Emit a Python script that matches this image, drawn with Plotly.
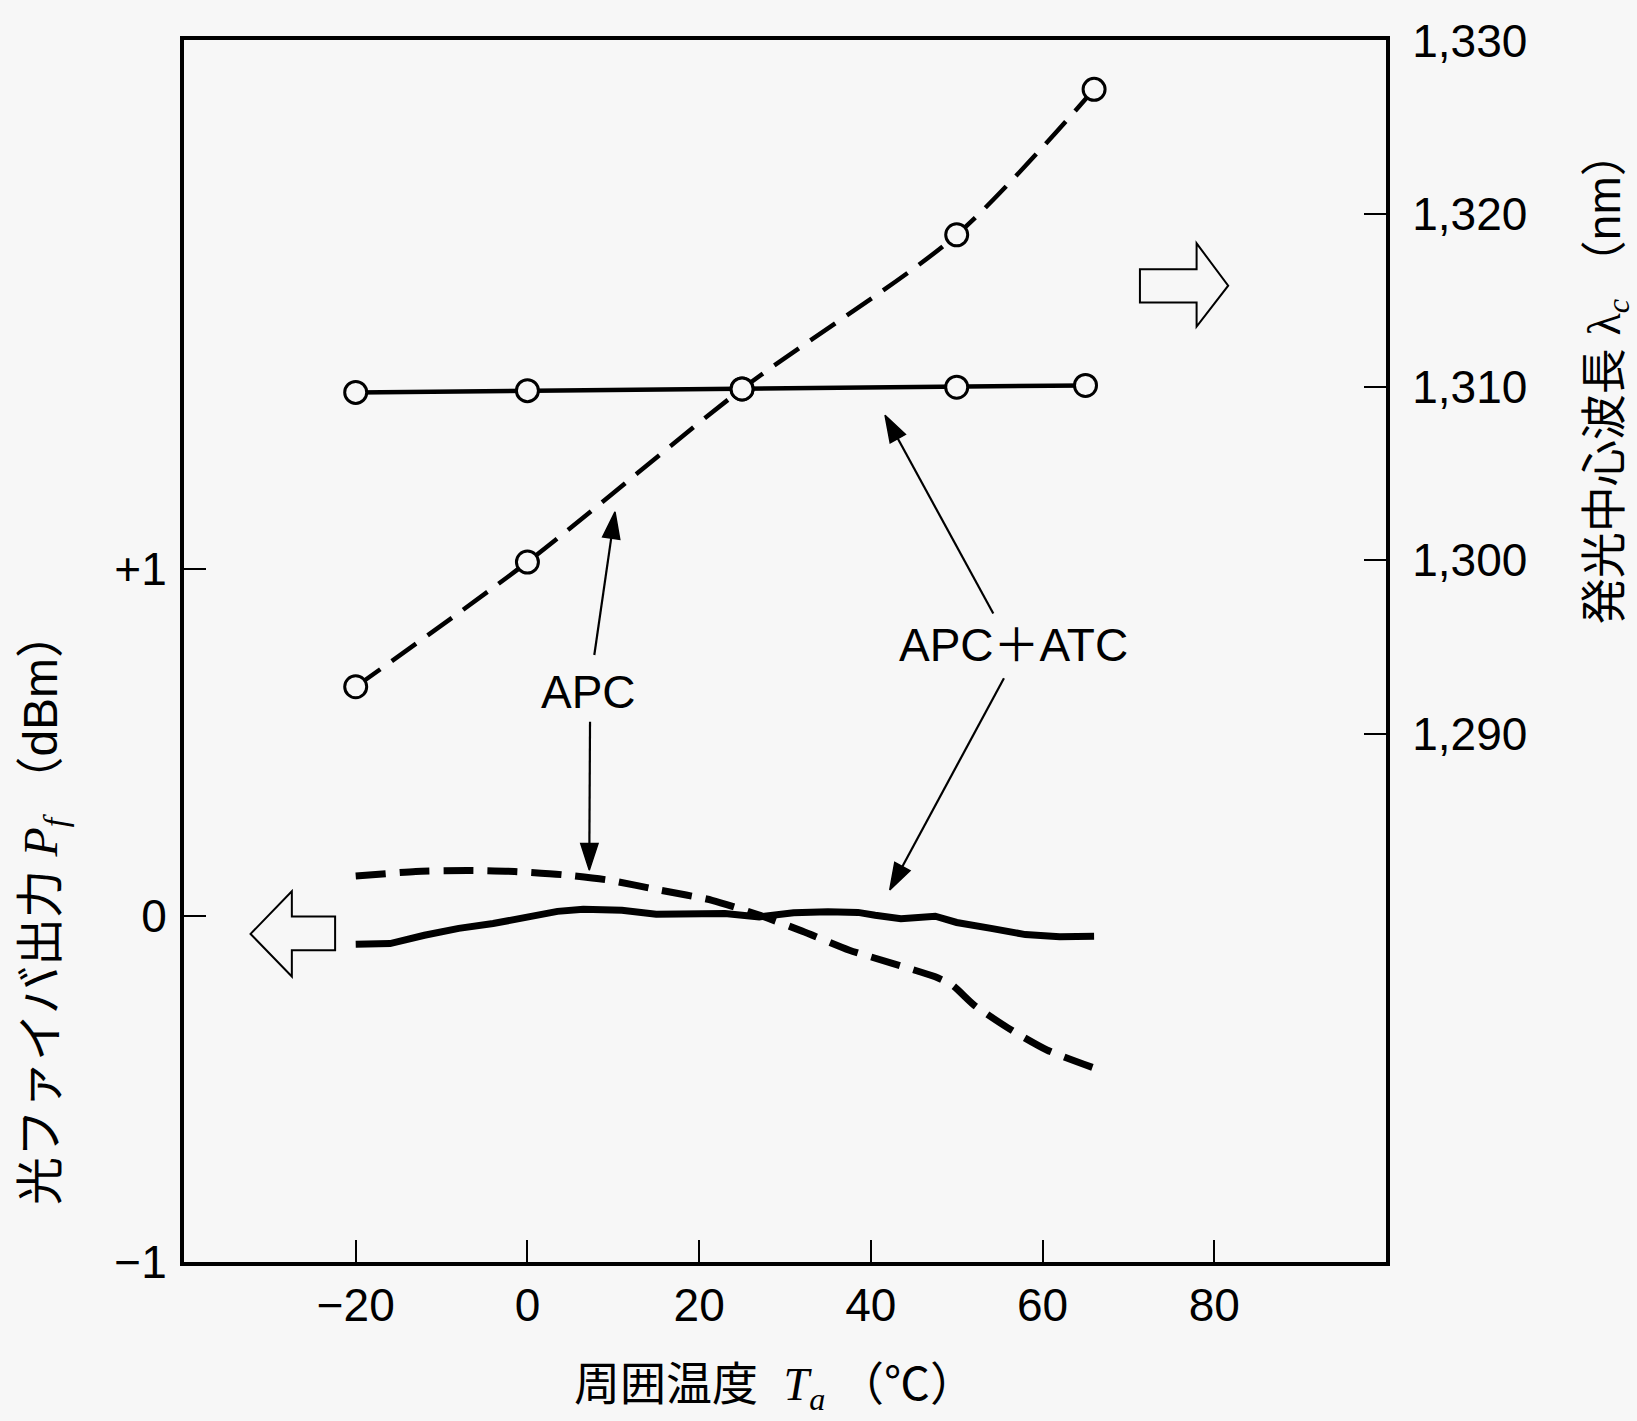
import plotly.graph_objects as go

# ---- data ----
# wavelength (right axis, nm), open-circle measurement points
temp_wl_apc = [-20, 0, 25, 50, 66]
wl_apc = [1292.7, 1299.9, 1309.9, 1318.8, 1327.2]
temp_wl_atc = [-20, 0, 25, 50, 65]
wl_atc = [1309.7, 1309.8, 1309.9, 1310.0, 1310.1]

# fibre output power (left axis, dBm)
temp_pf_apc = [-20, -13, -7, -1.5, 4, 9.5, 15.5, 21.5, 27, 32, 37.5, 42.5, 47.5, 49.5, 52, 56, 60.5, 67]
pf_apc = [0.114, 0.127, 0.130, 0.127, 0.118, 0.102, 0.073, 0.044, 0.001, -0.045, -0.100, -0.138,
          -0.177, -0.201, -0.258, -0.325, -0.388, -0.449]
temp_pf_atc = [-20, -16, -12, -8, -4, 0, 3.5, 6.5, 11, 15, 19, 23, 27, 31, 35, 38.5, 40.5, 43.5,
               47.5, 50, 54, 58, 62, 66]
pf_atc = [-0.083, -0.081, -0.057, -0.037, -0.023, -0.004, 0.012, 0.018, 0.015, 0.004, 0.004, 0.006,
          -0.004, 0.008, 0.011, 0.009, 0.001, -0.009, -0.002, -0.020, -0.037, -0.055, -0.061, -0.060]

x_ticks = [-20, 0, 20, 40, 60, 80]
x_ticktext = ["\u221220", "0", "20", "40", "60", "80"]
y_ticks = [-1, 0, 1]
y_ticktext = ["\u22121", "0", "+1"]
y2_ticks = [1290, 1300, 1310, 1320, 1330]
y2_ticktext = ["1,290", "1,300", "1,310", "1,320", "1,330"]

bg = "#f7f7f7"
sans = "Liberation Sans, Noto Sans CJK JP, sans-serif"
serif = "Liberation Serif, DejaVu Serif, serif"
dash = "30px,14px"

fig = go.Figure()

circle_marker = dict(symbol="circle", size=22, color=bg, line=dict(color="black", width=3))

fig.add_trace(go.Scatter(x=temp_wl_apc, y=wl_apc, yaxis="y2", mode="lines+markers",
                         line=dict(color="black", width=4.5, dash=dash, shape="spline", smoothing=0.8),
                         marker=circle_marker))
fig.add_trace(go.Scatter(x=temp_wl_atc, y=wl_atc, yaxis="y2", mode="lines+markers",
                         line=dict(color="black", width=4.5),
                         marker=circle_marker))
fig.add_trace(go.Scatter(x=temp_pf_apc, y=pf_apc, mode="lines",
                         line=dict(color="black", width=7, dash=dash, shape="spline", smoothing=0.6)))
fig.add_trace(go.Scatter(x=temp_pf_atc, y=pf_atc, mode="lines",
                         line=dict(color="black", width=7)))

# annotation arrows (tail -> tip) in left-axis coordinates
arrows = [
    ((7.79, 0.752), (10.2, 1.165)),
    ((7.29, 0.559), (7.2, 0.131)),
    ((54.26, 0.872), (41.65, 1.444)),
    ((55.5, 0.685), (42.2, 0.074)),
]
for (tx, ty), (hx, hy) in arrows:
    fig.add_trace(go.Scatter(x=[tx, hx], y=[ty, hy], mode="lines+markers",
                             line=dict(color="black", width=2.2),
                             marker=dict(symbol=["circle", "arrow"], size=[0, 28],
                                         angleref="previous", color="black", opacity=1,
                                         line=dict(color="black", width=1.5))))

fig.add_annotation(x=7.17, y=0.645, xref="x", yref="y", text="APC", showarrow=False,
                   xanchor="center", yanchor="middle",
                   font=dict(family=sans, size=46, color="black"))
fig.add_annotation(x=56.59, y=0.781, xref="x", yref="y", text="APC\uff0bATC", showarrow=False,
                   xanchor="center", yanchor="middle",
                   font=dict(family=sans, size=46, color="black"))

# hollow block arrows
fig.add_shape(type="path", xref="x", yref="y",
              path="M -22.4,-0.003 L -27.44,-0.003 L -27.44,0.07 L -32.25,-0.053 L -27.44,-0.176 L -27.44,-0.10 L -22.4,-0.10 Z",
              line=dict(color="black", width=2), fillcolor=bg)
fig.add_shape(type="path", xref="x", yref="y",
              path="M 71.34,1.865 L 77.94,1.865 L 77.94,1.940 L 81.62,1.818 L 77.94,1.700 L 77.94,1.769 L 71.34,1.769 Z",
              line=dict(color="black", width=2), fillcolor=bg)

# axis titles
fig.add_annotation(x=-0.117, y=0.29, xref="paper", yref="paper", textangle=-90, showarrow=False,
                   xanchor="center", yanchor="middle",
                   text="光ファイバ出力 <span style='font-family:%s'><i>P<sub>f</sub></i></span> （dBm）" % serif,
                   font=dict(family=sans, size=48, color="black"))
fig.add_annotation(x=1.1839, y=0.724, xref="paper", yref="paper", textangle=-90, showarrow=False,
                   xanchor="center", yanchor="middle",
                   text="発光中心波長 <span style='font-family:%s'>λ<sub><i>c</i></sub></span> （nm）" % serif,
                   font=dict(family=sans, size=46, color="black"))
fig.add_annotation(x=0.492, y=-0.103, xref="paper", yref="paper", showarrow=False,
                   xanchor="center", yanchor="middle",
                   text="周囲温度  <span style='font-family:%s'><i>T<sub>a</sub></i></span> （℃）" % serif,
                   font=dict(family=sans, size=46, color="black"))

axis_common = dict(showline=True, linewidth=4, linecolor="black", ticks="inside", ticklen=22,
                   tickwidth=2, tickcolor="black", showgrid=False, zeroline=False,
                   tickfont=dict(family=sans, size=46, color="black"))

fig.update_layout(
    width=1637, height=1421,
    margin=dict(l=184, r=251, t=40, b=159),
    paper_bgcolor=bg, plot_bgcolor=bg,
    showlegend=False,
    xaxis=dict(range=[-40, 100], tickvals=x_ticks, ticktext=x_ticktext, mirror=True,
               ticklabelstandoff=0, **axis_common),
    yaxis=dict(range=[-1, 2.527], tickvals=y_ticks, ticktext=y_ticktext,
               ticklabelstandoff=4, **axis_common),
    yaxis2=dict(range=[1259.48, 1330.05], tickvals=y2_ticks, ticktext=y2_ticktext,
                overlaying="y", side="right", ticklabelstandoff=13, **axis_common),
)

fig.write_html("out.html", config={"displayModeBar": False},
               post_script="document.body.style.margin='0';document.body.style.background='%s';" % bg)
